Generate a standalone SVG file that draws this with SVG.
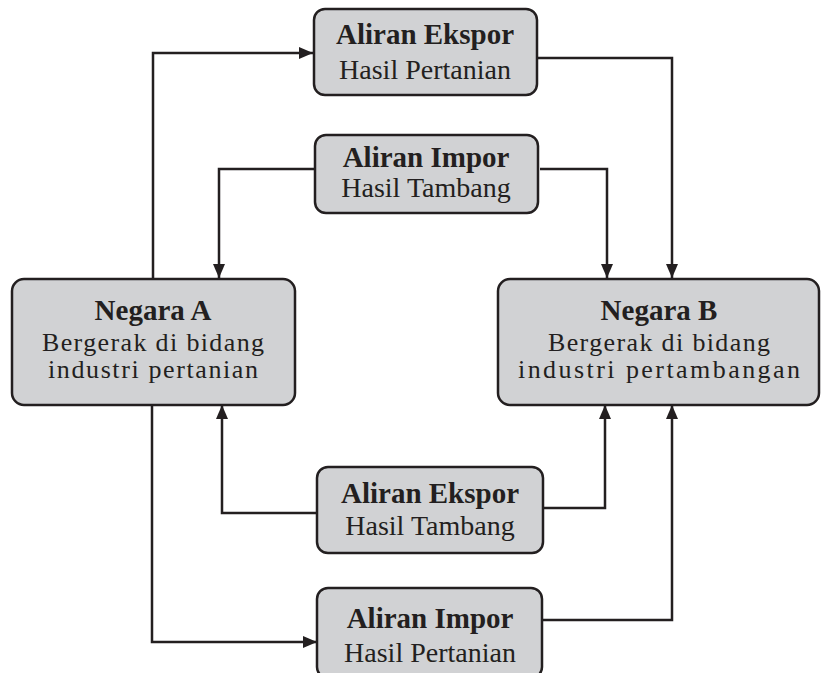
<svg xmlns="http://www.w3.org/2000/svg" width="822" height="673" viewBox="0 0 822 673">
<style>
.box{fill:#d1d2d4;stroke:#231f20;stroke-width:2.5}
.t{font-family:"Liberation Serif","Times New Roman",serif;fill:#231f20;text-anchor:middle;font-size:28px}
.b{font-weight:bold;font-size:29px}
.s{font-size:26px}
.c{fill:none;stroke:#231f20;stroke-width:2.5}
</style>
<defs>
<marker id="ah" viewBox="0 0 14 12" refX="14" refY="6" markerWidth="14" markerHeight="12" markerUnits="userSpaceOnUse" orient="auto">
<path d="M0,0 L14,6 L0,12 Z" fill="#231f20"/>
</marker>
</defs>
<rect width="822" height="673" fill="#fff"/>
<g id="connectors">
<path class="c" marker-end="url(#ah)" d="M153,278 V53 H313"/>
<path class="c" marker-end="url(#ah)" d="M538,58 H672 V278"/>
<path class="c" marker-end="url(#ah)" d="M315,169 H219 V278"/>
<path class="c" marker-end="url(#ah)" d="M540,169 H607 V278"/>
<path class="c" marker-end="url(#ah)" d="M317,513 H222 V405"/>
<path class="c" marker-end="url(#ah)" d="M542,508 H605 V405"/>
<path class="c" marker-end="url(#ah)" d="M152,405 V642 H317"/>
<path class="c" marker-end="url(#ah)" d="M542,620 H672 V405"/>
</g>
<g id="ekspor-pertanian">
<rect class="box" x="314" y="9" width="223" height="86" rx="11"/>
<text class="t b" x="425" y="44">Aliran Ekspor</text>
<text class="t" x="425" y="79">Hasil Pertanian</text>
</g>
<g id="impor-tambang">
<rect class="box" x="315" y="135" width="223" height="78" rx="11"/>
<text class="t b" x="426" y="167">Aliran Impor</text>
<text class="t" x="426" y="197">Hasil Tambang</text>
</g>
<g id="negara-a">
<rect class="box" x="12" y="279" width="283" height="126" rx="12"/>
<text class="t b" x="153" y="320">Negara A</text>
<text class="t s" x="153" y="351" textLength="222" lengthAdjust="spacing">Bergerak di bidang</text>
<text class="t s" x="153" y="378" textLength="210" lengthAdjust="spacing">industri pertanian</text>
</g>
<g id="negara-b">
<rect class="box" x="498" y="279" width="321" height="126" rx="12"/>
<text class="t b" x="659" y="320">Negara B</text>
<text class="t s" x="659" y="351" textLength="222" lengthAdjust="spacing">Bergerak di bidang</text>
<text class="t s" x="659" y="378" textLength="282" lengthAdjust="spacing">industri pertambangan</text>
</g>
<g id="ekspor-tambang">
<rect class="box" x="317" y="467" width="226" height="86" rx="11"/>
<text class="t b" x="430" y="503">Aliran Ekspor</text>
<text class="t" x="430" y="535">Hasil Tambang</text>
</g>
<g id="impor-pertanian">
<rect class="box" x="317" y="588" width="225" height="90" rx="11"/>
<text class="t b" x="430" y="628">Aliran Impor</text>
<text class="t" x="430" y="662">Hasil Pertanian</text>
</g>
</svg>
